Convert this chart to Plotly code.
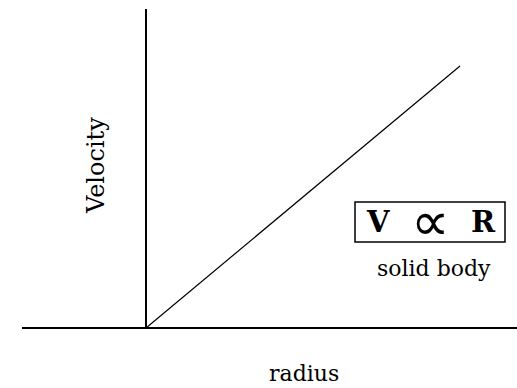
import plotly.graph_objects as go

# Data: solid-body rotation, velocity proportional to radius
radius = [0, 1]
velocity = [0, 1]

x_label = "radius"
y_label = "Velocity"
relation = ("V", "∝", "R")
caption = "solid body"

W, H = 517, 388
# origin pixel and scale (pixels per unit)
ox, oy = 146, 328
sx, sy = 314, 262

xr = [-ox / sx, (W - ox) / sx]
yr = [-(H - oy) / sy, oy / sy]

fig = go.Figure()
fig.add_trace(go.Scatter(x=radius, y=velocity, mode="lines",
                         line=dict(color="black", width=1.2),
                         hoverinfo="skip", showlegend=False))

# axes lines
fig.add_shape(type="line", xref="x", yref="y", x0=0, x1=0, y0=0, y1=(oy - 9) / sy,
              line=dict(color="black", width=2))
fig.add_shape(type="line", xref="x", yref="y", x0=(22 - ox) / sx, x1=xr[1] + 0.1, y0=0, y1=0,
              line=dict(color="black", width=2))

serif = "DejaVu Serif, Liberation Serif, serif"

fig.add_annotation(text=y_label, xref="paper", yref="paper", x=96 / W, y=1 - 166 / H,
                   textangle=-90, showarrow=False, xanchor="center", yanchor="middle",
                   font=dict(family=serif, size=24, color="black"))
fig.add_annotation(text=x_label, xref="paper", yref="paper", x=304 / W, y=1 - 373 / H,
                   showarrow=False, xanchor="center", yanchor="middle",
                   font=dict(family=serif, size=22, color="black"))
# box around the relation
fig.add_shape(type="rect", xref="paper", yref="paper",
              x0=355 / W, x1=505 / W, y0=1 - 242 / H, y1=1 - 202 / H,
              line=dict(color="black", width=1.5))
fig.add_annotation(text="<b>" + relation[0] + "</b>", xref="paper", yref="paper",
                   x=378 / W, y=1 - 222 / H, showarrow=False,
                   xanchor="center", yanchor="middle",
                   font=dict(family=serif, size=29, color="black"))
fig.add_annotation(text=relation[1], xref="paper", yref="paper",
                   x=430 / W, y=1 - 222 / H, showarrow=False,
                   xanchor="center", yanchor="middle",
                   font=dict(family="Liberation Serif, serif", size=54, color="black"))
fig.add_annotation(text="<b>" + relation[2] + "</b>", xref="paper", yref="paper",
                   x=483 / W, y=1 - 222 / H, showarrow=False,
                   xanchor="center", yanchor="middle",
                   font=dict(family=serif, size=29, color="black"))
fig.add_annotation(text=caption, xref="paper", yref="paper", x=434 / W, y=1 - 268 / H,
                   showarrow=False, xanchor="center", yanchor="middle",
                   font=dict(family=serif, size=22, color="black"))

fig.update_layout(
    width=W, height=H,
    margin=dict(l=0, r=0, t=0, b=0),
    paper_bgcolor="white", plot_bgcolor="white",
    xaxis=dict(range=xr, visible=False, fixedrange=True),
    yaxis=dict(range=yr, visible=False, fixedrange=True),
)

fig.write_html("out.html", config={"displayModeBar": False, "staticPlot": True},
               post_script="document.body.style.margin='0';")
